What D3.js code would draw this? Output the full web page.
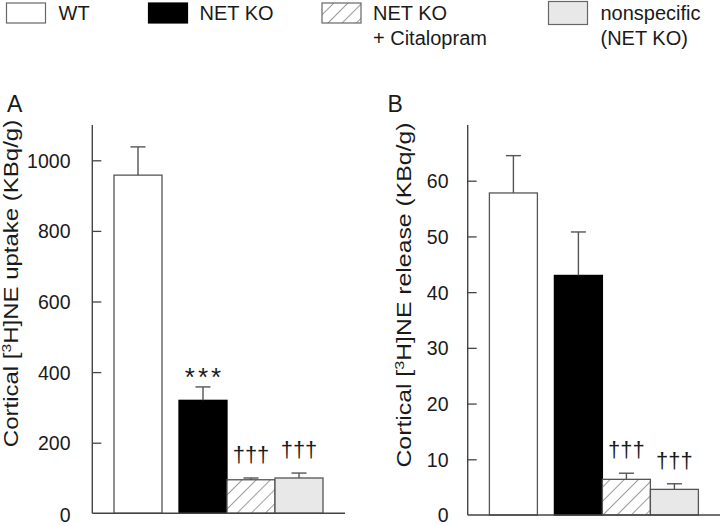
<!DOCTYPE html>
<html><head><meta charset="utf-8">
<script src="https://cdn.jsdelivr.net/npm/d3@7"></script>
<style>
html,body{margin:0;padding:0;background:#fff;}
text{font-family:"Liberation Sans",Arial,Helvetica,sans-serif;fill:#1a1a1a;}
</style></head>
<body>
<svg id="chart" width="720" height="526"></svg>
<script>
// ---- data ----
const categories = ["WT", "NET KO", "NET KO + Citalopram", "nonspecific (NET KO)"];
const legendLines = [["WT"], ["NET KO"], ["NET KO", "+ Citalopram"], ["nonspecific", "(NET KO)"]];
const uptakeMean = [958, 320, 95, 100];
const uptakeErr  = [80, 38, 5, 14];
const uptakeMarks = ["", "***", "†††", "†††"];
const releaseMean = [57.8, 43.0, 6.4, 4.6];
const releaseErr  = [6.7, 7.8, 1.1, 1.0];
const releaseMarks = ["", "", "†††", "†††"];
const uptakeTicks = [0, 200, 400, 600, 800, 1000];
const releaseTicks = [0, 10, 20, 30, 40, 50, 60];

const svg = d3.select("#chart");
const defs = svg.append("defs");
const pat = defs.append("pattern").attr("id","hatch").attr("patternUnits","userSpaceOnUse")
  .attr("width",10).attr("height",10).attr("patternTransform","rotate(45)");
pat.append("rect").attr("width",10).attr("height",10).attr("fill","#fff");
pat.append("line").attr("x1",0).attr("y1",0).attr("x2",0).attr("y2",10)
  .attr("stroke","#666").attr("stroke-width",1.3);

const fills = ["#fff", "#000", "url(#hatch)", "#e8e8e8"];
const strokeCol = "#555";
const axisCol = "#444";

// ---- legend ----
const legendX = [6.5, 148.5, 322, 548.5];
const lg = svg.append("g");
categories.forEach((c, i) => {
  const g = lg.append("g").attr("transform", `translate(${legendX[i]},0)`);
  g.append("rect").attr("x",0).attr("y", i===3 ? 1.5 : 3).attr("width",39).attr("height", i===3 ? 23 : 20)
    .attr("fill", fills[i]).attr("stroke", i===1 ? "#000" : "#666").attr("stroke-width",1.2);
  const tx = (i===0 || i===3) ? 52 : 51;
  const t = g.append("text").attr("x", tx).attr("y", 19.5).attr("font-size",20);
  legendLines[i].forEach((ln, k) => {
    t.append("tspan").attr("x", tx).attr("dy", k===0 ? 0 : 25).text(ln);
  });
});

// ---- panel drawer ----
function panel(opt) {
  const g = svg.append("g");
  const y = d3.scaleLinear().domain(opt.domain).range([opt.y0, 125]);
  const barW = 48, gap = 17;
  const x = d3.scaleLinear().domain([0, 1]).range([opt.ax + 21.7, opt.ax + 21.7 + barW]);
  const left = i => x(i + (i > 0 ? gap / barW : 0));

  // bars
  g.selectAll("rect.bar").data(opt.mean).join("rect").attr("class","bar")
    .attr("x", (d,i) => left(i)).attr("width", barW)
    .attr("y", d => y(d)).attr("height", d => opt.y0 - y(d))
    .attr("fill", (d,i) => fills[i]).attr("stroke", (d,i) => i===1 ? "#000" : strokeCol).attr("stroke-width",1.3);

  // error bars
  const eb = g.selectAll("g.err").data(opt.mean).join("g").attr("class","err");
  eb.append("line").attr("x1",(d,i)=>left(i)+barW/2).attr("x2",(d,i)=>left(i)+barW/2)
    .attr("y1", d => y(d)).attr("y2",(d,i)=>y(d+opt.err[i])).attr("stroke",strokeCol).attr("stroke-width",1.4);
  eb.append("line").attr("x1",(d,i)=>left(i)+barW/2-7.5).attr("x2",(d,i)=>left(i)+barW/2+7.5)
    .attr("y1",(d,i)=>y(d+opt.err[i])).attr("y2",(d,i)=>y(d+opt.err[i])).attr("stroke",strokeCol).attr("stroke-width",1.4);

  // significance marks
  g.selectAll("text.mark").data(opt.marks).join("text").attr("class","mark")
    .attr("x",(d,i)=>left(i)+barW/2 + (d==="***" ? 1.5 : 0))
    .attr("y",(d,i)=>y(opt.mean[i]+opt.err[i]) - (d==="***" ? 1 : 16))
    .attr("text-anchor","middle")
    .attr("font-family", d => d==="***" ? null : '"DejaVu Sans",sans-serif')
    .attr("font-size", d => d==="***" ? 26 : 22)
    .attr("letter-spacing", d => d==="***" ? 3 : 0)
    .text(d => d);

  // axes lines
  g.append("line").attr("x1",opt.ax).attr("x2",opt.ax).attr("y1",125).attr("y2",opt.y0)
    .attr("stroke",axisCol).attr("stroke-width",1.4);
  g.append("line").attr("x1",opt.ax).attr("x2",opt.xEnd).attr("y1",opt.y0).attr("y2",opt.y0)
    .attr("stroke",axisCol).attr("stroke-width",1.4);
  const axis = d3.axisRight(y).tickValues(opt.ticks).tickSize(9).tickFormat(d3.format("d"));
  const ag = g.append("g").attr("transform",`translate(${opt.ax},0)`).call(axis);
  ag.select(".domain").remove();
  ag.selectAll(".tick line").attr("stroke",axisCol).attr("stroke-width",1.3)
    .filter(d => d === 0).remove();
  ag.selectAll(".tick text").attr("x", opt.labelX - opt.ax).attr("dy","0.36em")
    .attr("text-anchor","end").attr("font-size",19.5).attr("fill","#1a1a1a")
    .attr("font-family",'"Liberation Sans",Arial,sans-serif')
    .filter(d => d === 0).attr("dy", 521 - opt.y0);

  // axis title
  const t = g.append("text").attr("transform",`translate(${opt.titleX},${opt.titleY}) rotate(-90) scale(${opt.titleScale},1)`)
    .attr("text-anchor","middle").attr("font-size",20);
  t.append("tspan").text("Cortical [");
  t.append("tspan").attr("font-size",13).attr("dy",-7).text("3");
  t.append("tspan").attr("dy",7).text("H]NE " + opt.title);

  // panel letter
  g.append("text").attr("x",opt.letterX).attr("y",111.5).attr("font-size",23).text(opt.letter);
}

panel({domain:[0,1100], y0:513.3, ax:92.3, xEnd:345, mean:uptakeMean, err:uptakeErr, marks:uptakeMarks,
  ticks:uptakeTicks, labelX:70.5, titleX:18, titleY:283.5, titleScale:1.2, title:"uptake (KBq/g)", letter:"A", letterX:7});
panel({domain:[0,70], y0:515, ax:467.7, xEnd:720, mean:releaseMean, err:releaseErr, marks:releaseMarks,
  ticks:releaseTicks, labelX:448.5, titleX:410.5, titleY:295, titleScale:1.24, title:"release (KBq/g)", letter:"B", letterX:387.5});
</script>
</body></html>
